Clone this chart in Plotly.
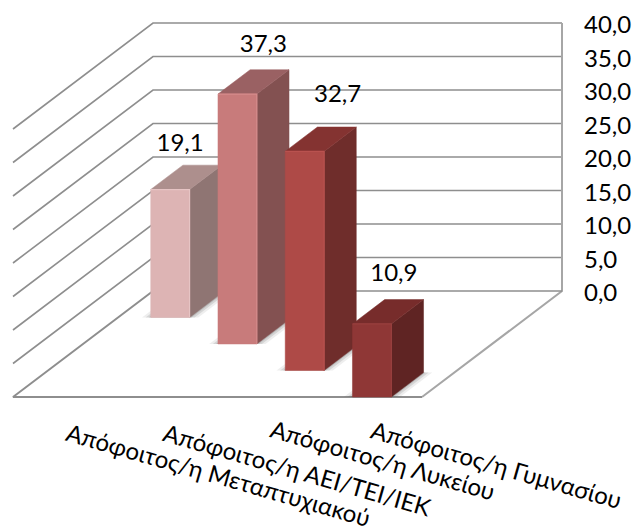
import plotly.graph_objects as go

# Survey results by education level
categories = [
    "Απόφοιτος/η Μεταπτυχιακού",
    "Απόφοιτος/η ΑΕΙ/ΤΕΙ/ΙΕΚ",
    "Απόφοιτος/η Λυκείου",
    "Απόφοιτος/η Γυμνασίου",
]
values = [19.1, 37.3, 32.7, 10.9]
axis_ticks = [0, 5, 10, 15, 20, 25, 30, 35, 40]

# Face colours per bar: front, side, top
front_colors = ["#DDB4B4", "#C87B7B", "#AE4A47", "#8F3736"]
side_colors = ["#8F7573", "#835151", "#6F2D2B", "#5F2423"]
top_colors = ["#AD8F8D", "#9A6163", "#843331", "#772C2B"]
edge_colors = ["#E6C4C4", "#D58C8C", "#B9524F", "#99403F"]

# Oblique projection: the plot's x unit is one category slot on the floor,
# its y unit is one axis value measured on the back wall.
WIDTH, HEIGHT = 636, 532
PX_PER_SLOT = 102.25
PX_PER_VALUE = 6.7
LEFT_PX, WALL_ZERO_PX = 13.0, 291.0
SHEAR_X = 35.0 / PX_PER_SLOT
SHEAR_Y = 26.5 / PX_PER_VALUE
DEPTH = 4.0
TEXT_FONT = "Lato"


def project(slot, depth, value):
    return slot + depth * SHEAR_X, value - (DEPTH - depth) * SHEAR_Y


def px(dx=0.0, dy=0.0):
    """Convert a pixel offset into plot units (dy positive = downwards)."""
    return dx / PX_PER_SLOT, -dy / PX_PER_VALUE


def line(points, color, width):
    xs, ys = zip(*points)
    return go.Scatter(x=xs, y=ys, mode="lines", line=dict(color=color, width=width),
                      hoverinfo="skip", showlegend=False)


def poly(points, color, edge=None, edge_width=0):
    pts = points + points[:1]
    xs, ys = zip(*pts)
    return go.Scatter(x=xs, y=ys, mode="lines", fill="toself", fillcolor=color,
                      line=dict(color=edge or color, width=edge_width),
                      hoverinfo="skip", showlegend=False)


traces = []
GRID = "#8E8E8E"

# Side wall and back wall gridlines
for t in axis_ticks:
    if t == 0:
        continue
    traces.append(line([project(0, 0, t), project(0, DEPTH, t), project(4, DEPTH, t)], GRID, 1.6))

# Floor outline and back right corner
traces.append(line([project(4, 0, 0), project(4, DEPTH, 0), project(4, DEPTH, 40)], "#A6A6A6", 2))
traces.append(line([project(0, DEPTH, 0), project(4, DEPTH, 0)], GRID, 1.6))
traces.append(line([project(0, DEPTH, 0), project(0, 0, 0), project(4, 0, 0)], GRID, 2))

BAR_LO, BAR_HI = 0.32, 0.70
DEPTH_LO, DEPTH_HI = 0.0, 0.92

for i, v in enumerate(values):
    d = len(values) - 1 - i
    x0, x1 = i + BAR_LO, i + BAR_HI
    z0, z1 = d + DEPTH_LO, d + DEPTH_HI

    # Soft contact shadow on the floor
    for grow, alpha in ((0.085, 0.10), (0.05, 0.16), (0.02, 0.22)):
        traces.append(poly([
            project(x0 - grow, z0, 0), project(x1 + grow, z0, 0),
            project(x1 + grow, z1, 0), project(x0 - grow, z1, 0),
        ], f"rgba(90,90,90,{alpha})"))

    traces.append(poly([project(x1, z0, 0), project(x1, z1, 0), project(x1, z1, v), project(x1, z0, v)],
                       side_colors[i], side_colors[i], 0.5))
    traces.append(poly([project(x0, z0, v), project(x1, z0, v), project(x1, z1, v), project(x0, z1, v)],
                       top_colors[i], top_colors[i], 0.5))
    traces.append(poly([project(x0, z0, 0), project(x1, z0, 0), project(x1, z0, v), project(x0, z0, v)],
                       front_colors[i], front_colors[i], 0.5))
    # Bevel highlight along the front face's top and right edges
    traces.append(line([project(x0, z0, v), project(x1, z0, v), project(x1, z0, 0)], edge_colors[i], 1.2))

# Value labels sit above each bar; offsets are in pixels from the front top centre
label_offsets = [(11, -45), (27, -48), (34, -55), (23, -49)]
for i, v in enumerate(values):
    d = len(values) - 1 - i
    x, y = project(i + 0.5, d + DEPTH_LO, v)
    ox, oy = px(*label_offsets[i])
    traces.append(go.Scatter(
        x=[x + ox], y=[y + oy], mode="text", text=[f"{v:.1f}".replace(".", ",")],
        textposition="middle center",
        textfont=dict(family=TEXT_FONT, size=24, color="#000000"),
        hoverinfo="skip", showlegend=False,
    ))

fig = go.Figure(traces)

# Slanted category labels; centres are pixel offsets from each slot's front centre
category_offsets = [(154, 77.5), (131, 72), (114, 62), (126, 67)]
for i, name in enumerate(categories):
    x, y = project(i + 0.5, 0, 0)
    ox, oy = px(*category_offsets[i])
    fig.add_annotation(
        x=x + ox, y=y + oy, xref="x", yref="y", text=name, showarrow=False,
        textangle=16, xanchor="center", yanchor="middle",
        font=dict(family=TEXT_FONT, size=24, color="#000000"),
    )

fig.update_layout(
    width=WIDTH, height=HEIGHT,
    margin=dict(l=0, r=0, t=0, b=0),
    paper_bgcolor="white", plot_bgcolor="white",
    separators=",.",
    showlegend=False,
    xaxis=dict(
        visible=False, fixedrange=True,
        range=[-LEFT_PX / PX_PER_SLOT, (WIDTH - LEFT_PX) / PX_PER_SLOT],
    ),
    yaxis=dict(
        range=[-(HEIGHT - WALL_ZERO_PX) / PX_PER_VALUE, WALL_ZERO_PX / PX_PER_VALUE],
        fixedrange=True, side="right", anchor="free", position=583 / WIDTH,
        tickmode="array", tickvals=axis_ticks, tickformat=".1f",
        showgrid=False, zeroline=False, showline=False, ticks="",
        ticklabelshift=2,
        tickfont=dict(family=TEXT_FONT, size=24, color="#000000"),
    ),
)

fig.write_html("out.html", config=dict(displayModeBar=False))
